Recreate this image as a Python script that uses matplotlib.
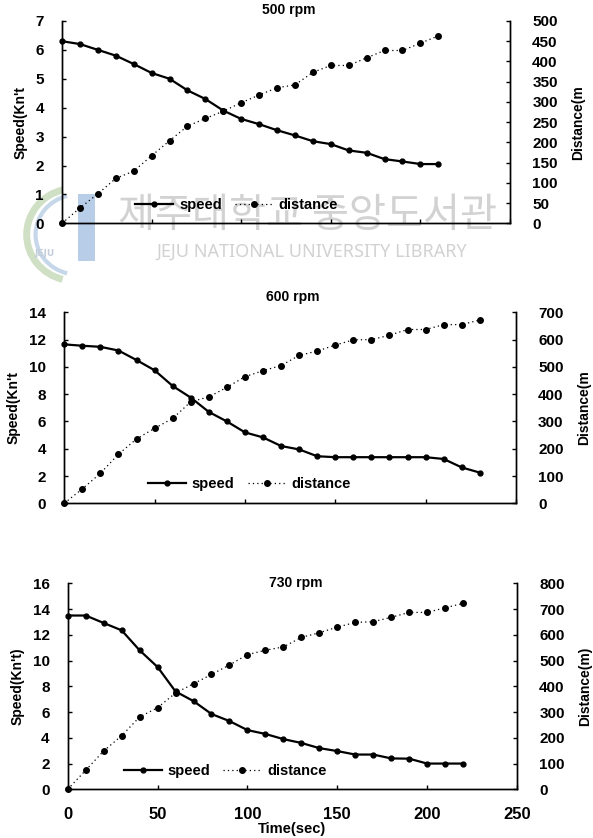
import numpy as np
import matplotlib
matplotlib.use("Agg")
import matplotlib.pyplot as plt
from matplotlib.patches import Rectangle, Arc

plt.rcParams['font.family'] = ['Liberation Sans', 'DejaVu Sans']
plt.rcParams['font.weight'] = 'bold'

# time axis (sec), 10 s steps
time_500 = [0, 10, 20, 30, 40, 50, 60, 70, 80, 90, 100, 110, 120, 130, 140, 150, 160, 170, 180, 190, 200, 210]
speed_500 = [6.3, 6.2, 6.0, 5.8, 5.51, 5.2, 5.0, 4.6, 4.3, 3.9, 3.61, 3.43, 3.22, 3.04, 2.84, 2.74, 2.52, 2.44, 2.22, 2.14, 2.05, 2.05]
dist_500 = [0, 38, 73, 111, 129, 167, 204, 240, 259, 277, 298, 317, 335, 342, 373, 390, 390, 409, 427, 427, 445, 463]

time_600 = [0, 10, 20, 30, 40, 50, 60, 70, 80, 90, 100, 110, 120, 130, 140, 150, 160, 170, 180, 190, 200, 210, 220, 230]
speed_600 = [11.65, 11.55, 11.47, 11.2, 10.5, 9.75, 8.6, 7.75, 6.7, 6.0, 5.2, 4.83, 4.2, 3.95, 3.45, 3.38, 3.38, 3.38, 3.38, 3.38, 3.38, 3.25, 2.63, 2.25]
dist_600 = [0, 53, 110, 180, 236, 275, 311, 372, 390, 425, 464, 486, 505, 542, 558, 580, 599, 600, 616, 637, 637, 655, 655, 672]

time_730 = [0, 10, 20, 30, 40, 50, 60, 70, 80, 90, 100, 110, 120, 130, 140, 150, 160, 170, 180, 190, 200, 210, 220]
speed_730 = [13.5, 13.5, 12.92, 12.35, 10.8, 9.5, 7.6, 6.85, 5.85, 5.3, 4.6, 4.3, 3.9, 3.6, 3.2, 2.97, 2.7, 2.7, 2.4, 2.38, 2.0, 2.0, 2.0]
dist_730 = [0, 74, 149, 208, 281, 317, 374, 410, 446, 483, 523, 540, 553, 590, 608, 630, 648, 651, 668, 687, 687, 705, 722]

titles = ["500 rpm", "600 rpm", "730 rpm"]
xticks = [0, 50, 100, 150, 200, 250]

fig = plt.figure(figsize=(5.93, 8.38), dpi=100)
fig.patch.set_facecolor('white')

# axes boxes in figure fractions (left, bottom, width, height)
boxes = [
    (0.1046, 0.7335, 0.7554, 0.2415),
    (0.1084, 0.3994, 0.7616, 0.2279),
    (0.1142, 0.0581, 0.7576, 0.2458),
]
panels = [
    (time_500, speed_500, dist_500, 7, 1, 500, 50, "Speed(Kn't", "Distance(m"),
    (time_600, speed_600, dist_600, 14, 2, 700, 100, "Speed(Kn't", "Distance(m"),
    (time_730, speed_730, dist_730, 16, 2, 800, 100, "Speed(Kn't)", "Distance(m)"),
]
legend_pos = [(0.39, 0.09), (0.41, 0.10), (0.35, 0.09)]
title_y = [0.988, 0.645, 0.304]

for i, (box, p) in enumerate(zip(boxes, panels)):
    t, sp, di, smax, sstep, dmax, dstep, lab_l, lab_r = p
    ax = fig.add_axes(box)
    ax.set_facecolor('none')
    ax2 = ax.twinx()
    ax2.set_facecolor('none')

    l1, = ax.plot(t, sp, color='black', lw=1.6, marker='o', ms=3.5, clip_on=False, zorder=3)
    l2, = ax2.plot(t, di, color='black', lw=0.9, ls=(0, (1, 2.5)), marker='o', ms=4,
                   clip_on=False, zorder=3)

    ax.set_xlim(0, 250)
    ax.set_ylim(0, smax)
    ax2.set_ylim(0, dmax)
    ax.set_yticks(np.arange(0, smax + 0.1, sstep))
    ax2.set_yticks(np.arange(0, dmax + 1, dstep))
    ax.set_xticks(xticks)

    for a in (ax, ax2):
        a.spines['top'].set_visible(False)
        for s in ('left', 'right', 'bottom'):
            a.spines[s].set_linewidth(1.0)
    ax.tick_params(axis='both', direction='in', length=3, width=1, labelsize=11, pad=9)
    ax2.tick_params(axis='y', direction='in', length=3, width=1, labelsize=11, pad=16)
    ax.tick_params(axis='y', pad=13)
    for lab in ax.get_yticklabels() + ax2.get_yticklabels() + ax.get_xticklabels():
        lab.set_fontweight('bold')

    if i < 2:
        ax.set_xticklabels([])
    else:
        ax.tick_params(axis='x', labelsize=12, pad=13)
        ax.set_xlabel("Time(sec)", fontsize=10.5, fontweight='bold', labelpad=0)

    ax.set_ylabel(lab_l, fontsize=10, fontweight='bold', labelpad=6)
    ax2.set_ylabel(lab_r, fontsize=10, fontweight='bold', labelpad=10)

    fig.text(box[0] + box[2] / 2 + 0.005, title_y[i], titles[i], ha='center', va='center',
             fontsize=10, fontweight='bold')

    ax.legend([l1, l2], ["speed", "distance"], loc='center', bbox_to_anchor=legend_pos[i],
              ncol=2, frameon=False, prop={'weight': 'bold', 'size': 10.5},
              handlelength=2.6, columnspacing=0.9, handletextpad=0.4)

# library watermark
fig.text(0.518, 0.743, "제주대학교 중앙도서관", ha='center', va='center', fontsize=29,
         family=['Noto Sans CJK KR', 'DejaVu Sans'], fontweight='normal',
         color='#d2d2d2', zorder=-1)
fig.text(0.525, 0.7, "JEJU NATIONAL UNIVERSITY LIBRARY", ha='center', va='center', fontsize=13,
         family=['Noto Sans', 'DejaVu Sans'], fontweight='normal', color='#d2d2d2', zorder=-1)
fig.patches.append(Rectangle((0.132, 0.688), 0.028, 0.08, transform=fig.transFigure,
                             facecolor='#b7cde8', edgecolor='none', zorder=-1))
fig.patches.append(Arc((0.125, 0.72), 0.16, 0.11, theta1=110, theta2=250, transform=fig.transFigure,
                       edgecolor='#cfe0c4', lw=5, zorder=-1))
fig.patches.append(Arc((0.13, 0.72), 0.14, 0.095, theta1=110, theta2=250, transform=fig.transFigure,
                       edgecolor='#c6d7ea', lw=3, zorder=-1))
fig.text(0.075, 0.697, "JEJU", ha='center', va='center', fontsize=6.5, color='#c4cedb',
         family=['DejaVu Sans'], zorder=-1)

fig.savefig("out.png", dpi=100, facecolor='white')
